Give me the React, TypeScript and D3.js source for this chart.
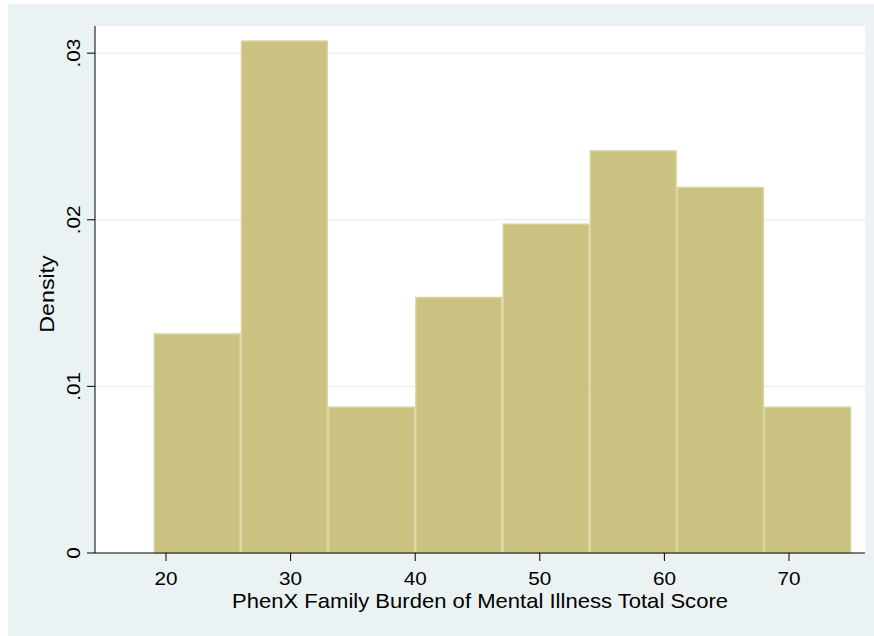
import React from "react";
import * as d3 from "d3";

const binEdges = [19, 26, 33, 40, 47, 54, 61, 68, 75];
const densities = [0.01319, 0.03077, 0.00879, 0.01538, 0.01978, 0.02418, 0.02198, 0.00879];
const xTicks = [20, 30, 40, 50, 60, 70];
const yTicks = [0, 0.01, 0.02, 0.03];
const yTickLabels = ["0", ".01", ".02", ".03"];
const xTitle = "PhenX Family Burden of Mental Illness Total Score";
const yTitle = "Density";

const W = 874;
const H = 636;
const plot = { left: 95, right: 865, top: 26, bottom: 553 };

export default function App() {
  const x = d3.scaleLinear().domain([14.3, 76.1]).range([plot.left, plot.right]);
  const y = d3.scaleLinear().domain([0, 0.03163]).range([plot.bottom, plot.top]);
  const font = "'Liberation Sans', Arial, Helvetica, sans-serif";
  const bins = densities.map((d, i) => ({ x0: binEdges[i], x1: binEdges[i + 1], d }));
  const sx = 1.12;

  return (
    <svg
      width={W}
      height={H}
      style={{ position: "absolute", left: 0, top: 0, display: "block" }}
      fontFamily={font}
    >
      <rect x={0} y={0} width={W} height={H} fill="#ffffff" />
      <rect x={8} y={4} width={W - 8} height={H - 4} fill="#eaf2f3" />
      <rect
        x={plot.left}
        y={plot.top}
        width={plot.right - plot.left}
        height={plot.bottom - plot.top}
        fill="#ffffff"
      />
      {yTicks.slice(1).map((t) => (
        <line
          key={"g" + t}
          x1={plot.left}
          x2={plot.right}
          y1={y(t)}
          y2={y(t)}
          stroke="#eaf2f3"
          strokeWidth={1.5}
        />
      ))}
      {bins.map((b, i) => (
        <rect
          key={"b" + i}
          x={x(b.x0) + 0.75}
          y={y(b.d) + 0.75}
          width={x(b.x1) - x(b.x0) - 1.5}
          height={y(0) - y(b.d) - 0.75}
          fill="#cac280"
          stroke="#d8d29c"
          strokeWidth={1.5}
        />
      ))}
      <line x1={plot.left} x2={plot.left} y1={plot.top} y2={plot.bottom} stroke="#000" strokeWidth={1} />
      <line x1={plot.left} x2={plot.right} y1={plot.bottom} y2={plot.bottom} stroke="#000" strokeWidth={1} />
      {yTicks.map((t, i) => (
        <g key={"yt" + t}>
          <line x1={plot.left - 8} x2={plot.left} y1={y(t)} y2={y(t)} stroke="#000" strokeWidth={1} />
          <text
            transform={`translate(79.5,${y(t)}) rotate(-90) scale(${sx},1)`}
            textAnchor="middle"
            fontSize={18.5}
            fill="#000"
          >
            {yTickLabels[i]}
          </text>
        </g>
      ))}
      {xTicks.map((t) => (
        <g key={"xt" + t}>
          <line x1={x(t)} x2={x(t)} y1={plot.bottom} y2={plot.bottom + 8} stroke="#000" strokeWidth={1} />
          <text
            transform={`translate(${x(t)},584.5) scale(${sx},1)`}
            textAnchor="middle"
            fontSize={18.5}
            fill="#000"
          >
            {t}
          </text>
        </g>
      ))}
      <text
        transform={`translate(${(plot.left + plot.right) / 2},607.5) scale(${sx},1)`}
        textAnchor="middle"
        fontSize={19.7}
        fill="#000"
      >
        {xTitle}
      </text>
      <text
        transform={`translate(53.5,294) rotate(-90) scale(1.16,1)`}
        textAnchor="middle"
        fontSize={20}
        fill="#000"
      >
        {yTitle}
      </text>
    </svg>
  );
}
